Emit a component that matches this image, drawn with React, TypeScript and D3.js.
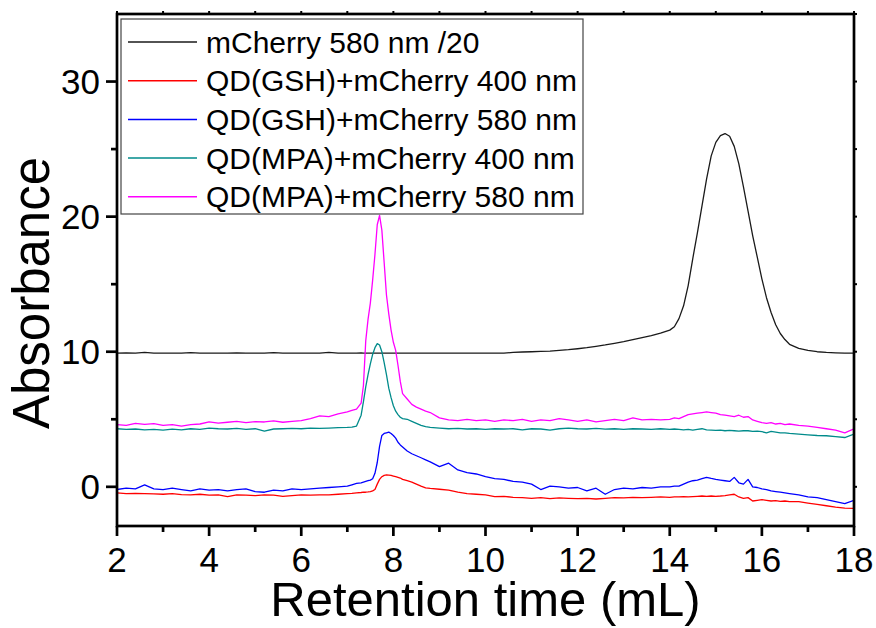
import React from "react";
import * as d3 from "d3";

// Retention volume grid (mL)
const retention: number[] = [
  2.0, 2.2, 2.4, 2.6, 2.8, 3.0, 3.2, 3.4, 3.6, 3.8, 4.0, 4.2, 4.4, 4.6, 4.8, 5.0, 5.2, 5.4, 5.6, 5.8, 6.0, 6.2, 6.4, 6.6, 6.8, 7.0,
  7.1, 7.2, 7.3, 7.35, 7.4, 7.45, 7.5, 7.55, 7.6, 7.65, 7.7, 7.75, 7.8, 7.85, 7.9, 7.95, 8.0, 8.05, 8.1, 8.15, 8.2, 8.3, 8.4, 8.5, 8.6, 8.7, 8.8,
  9.0, 9.2, 9.4, 9.6, 9.8, 10.0, 10.2, 10.4, 10.6, 10.8, 11.0, 11.2, 11.4, 11.6, 11.8, 12.0, 12.2, 12.4, 12.6, 12.8, 13.0, 13.2, 13.4, 13.6, 13.8,
  14.0, 14.1, 14.2, 14.3, 14.4, 14.5, 14.6, 14.7, 14.8, 14.9, 15.0, 15.1, 15.2, 15.3, 15.4, 15.5, 15.6, 15.7, 15.8, 15.9, 16.0, 16.1, 16.2, 16.3, 16.4, 16.5, 16.6,
  16.8, 17.0, 17.2, 17.4, 17.6, 17.8, 18.0,
];

const mCherry580: number[] = [
  9.9, 9.92, 9.9, 9.95, 9.9, 9.9, 9.9, 9.9, 9.93, 9.9, 9.9, 9.9, 9.9, 9.92, 9.9, 9.9, 9.9, 9.94, 9.9, 9.9, 9.9, 9.9, 9.9, 9.95, 9.9, 9.9,
  9.9, 9.9, 9.92, 9.9, 9.9, 9.9, 9.9, 9.9, 9.9, 9.9, 9.9, 9.9, 9.9, 9.9, 9.9, 9.9, 9.9, 9.9, 9.9, 9.9, 9.9, 9.9, 9.9, 9.9, 9.9, 9.9, 9.9,
  9.9, 9.9, 9.9, 9.9, 9.9, 9.9, 9.9, 9.9, 9.95, 9.98, 10.0, 10.02, 10.05, 10.1, 10.15, 10.22, 10.3, 10.4, 10.5, 10.62, 10.75, 10.9, 11.05, 11.2, 11.38,
  11.6, 11.85, 12.45, 13.4, 14.9, 16.9, 18.8, 20.8, 22.8, 24.5, 25.5, 26.0, 26.15, 25.95, 25.2, 23.9, 22.2, 20.4, 18.6, 17.0, 15.4, 14.0, 12.9, 12.0, 11.35, 10.9, 10.55,
  10.25, 10.1, 10.0, 9.95, 9.92, 9.9, 9.9,
];

const gsh400: number[] = [
  -0.45, -0.5, -0.48, -0.5, -0.52, -0.55, -0.5, -0.58, -0.6, -0.55, -0.62, -0.6, -0.72, -0.6, -0.62, -0.65, -0.6, -0.62, -0.7, -0.65, -0.6, -0.62, -0.6, -0.6, -0.55, -0.5,
  -0.48, -0.45, -0.42, -0.4, -0.4, -0.38, -0.35, -0.3, -0.2, 0.2, 0.55, 0.75, 0.85, 0.88, 0.87, 0.85, 0.8, 0.75, 0.7, 0.65, 0.55, 0.45, 0.35, 0.2, 0.05, -0.08, -0.12,
  -0.18, -0.25, -0.4, -0.5, -0.55, -0.6, -0.72, -0.7, -0.78, -0.8, -0.85, -0.8, -0.88, -0.82, -0.85, -0.88, -0.85, -0.9, -0.85, -0.8, -0.82, -0.78, -0.8, -0.78, -0.75,
  -0.78, -0.75, -0.75, -0.72, -0.75, -0.72, -0.7, -0.68, -0.7, -0.68, -0.7, -0.68, -0.65, -0.6, -0.55, -0.75, -0.85, -0.8, -1.05, -1.0, -0.95, -1.0, -1.05, -1.02, -1.08, -1.05, -1.1,
  -1.1, -1.2, -1.3, -1.4, -1.5, -1.58, -1.6,
];

const gsh580: number[] = [
  -0.2, -0.1, -0.15, 0.15, -0.15, -0.2, -0.1, -0.2, -0.3, -0.15, -0.25, -0.2, -0.3, -0.2, -0.15, -0.35, -0.4, -0.25, -0.3, -0.15, -0.2, -0.15, -0.1, -0.05, 0.0, 0.05,
  0.15, 0.25, 0.3, 0.35, 0.4, 0.45, 0.5, 0.6, 1.0, 1.8, 3.0, 3.8, 3.95, 4.0, 4.05, 3.95, 3.8, 3.6, 3.3, 3.1, 2.95, 2.65, 2.45, 2.3, 2.15, 2.0, 1.85,
  1.5, 1.75, 1.25, 1.05, 0.95, 0.75, 0.6, 0.55, 0.4, 0.35, 0.2, -0.2, 0.05, 0.0, -0.1, -0.05, -0.3, -0.1, -0.55, -0.2, -0.1, -0.15, -0.05, -0.1, 0.0,
  0.0, 0.05, 0.05, 0.2, 0.35, 0.45, 0.5, 0.6, 0.7, 0.62, 0.55, 0.5, 0.45, 0.4, 0.7, 0.3, 0.2, 0.55, 0.0, -0.05, -0.15, -0.2, -0.3, -0.35, -0.4, -0.45, -0.5,
  -0.6, -0.75, -0.8, -0.95, -1.1, -1.25, -1.0,
];

const mpa400: number[] = [
  4.3, 4.25, 4.28, 4.22, 4.25, 4.2, 4.27, 4.22, 4.3, 4.25, 4.35, 4.3, 4.28, 4.32, 4.25, 4.3, 4.12, 4.28, 4.3, 4.32, 4.3, 4.35, 4.33, 4.35, 4.38, 4.4,
  4.42, 4.5, 5.3, 6.3, 7.4, 8.3, 9.1, 9.8, 10.3, 10.6, 10.5, 10.0, 9.2, 8.3, 7.3, 6.6, 6.0, 5.6, 5.35, 5.15, 5.05, 5.0, 4.85, 4.7, 4.55, 4.45, 4.4,
  4.35, 4.3, 4.32, 4.28, 4.3, 4.25, 4.3, 4.28, 4.3, 4.22, 4.3, 4.28, 4.2, 4.3, 4.35, 4.3, 4.28, 4.32, 4.27, 4.3, 4.25, 4.3, 4.28, 4.25, 4.3,
  4.25, 4.28, 4.25, 4.22, 4.25, 4.2, 4.25, 4.3, 4.22, 4.2, 4.18, 4.2, 4.15, 4.18, 4.15, 4.12, 4.15, 4.15, 4.1, 4.12, 4.08, 4.0, 4.1, 4.05, 4.0, 4.0, 3.95,
  3.9, 3.85, 3.8, 3.78, 3.72, 3.65, 3.9,
];

const mpa580: number[] = [
  4.6, 4.55, 4.7, 4.62, 4.68, 4.55, 4.6, 4.5, 4.6, 4.65, 4.8, 4.72, 4.78, 4.85, 4.75, 4.82, 4.8, 4.88, 4.78, 4.85, 4.9, 5.05, 5.25, 5.2, 5.4, 5.55,
  5.65, 5.75, 6.2, 7.5, 10.8, 12.4, 13.6, 15.3, 17.2, 19.4, 20.1, 19.0, 16.6, 14.2, 12.8, 11.6, 10.7, 10.1, 9.0, 7.8, 6.9, 6.5, 6.1, 5.9, 5.75, 5.6, 5.5,
  5.1, 4.95, 4.9, 5.0, 4.9, 4.95, 4.85, 4.95, 4.9, 5.0, 4.85, 4.95, 4.9, 5.05, 4.95, 4.85, 4.95, 4.8, 4.9, 5.0, 4.9, 5.1, 4.95, 5.0, 4.95,
  5.0, 5.1, 5.05, 5.2, 5.35, 5.4, 5.45, 5.5, 5.55, 5.5, 5.45, 5.35, 5.3, 5.25, 5.2, 5.3, 5.15, 5.2, 4.95, 4.85, 4.75, 4.7, 4.75, 4.65, 4.7, 4.6, 4.65,
  4.55, 4.5, 4.4, 4.3, 4.2, 4.0, 4.3,
];

const seriesNames: string[] = [
  "mCherry 580 nm /20",
  "QD(GSH)+mCherry 400 nm",
  "QD(GSH)+mCherry 580 nm",
  "QD(MPA)+mCherry 400 nm",
  "QD(MPA)+mCherry 580 nm",
];
const seriesColors: string[] = ["#1a1a1a", "#ff0000", "#0000ff", "#008b8b", "#ff00ff"];
const seriesValues: number[][] = [mCherry580, gsh400, gsh580, mpa400, mpa580];

const xTicks: number[] = [2, 4, 6, 8, 10, 12, 14, 16, 18];
const xMinorTicks: number[] = [3, 5, 7, 9, 11, 13, 15, 17];
const yTicks: number[] = [0, 10, 20, 30];
const yMinorTicks: number[] = [5, 15, 25];

const W = 876;
const H = 628;
const M = { left: 117, right: 854, top: 14, bottom: 526 };
const FONT = "'Liberation Sans', Arial, Helvetica, sans-serif";

export default function App() {
  const x = d3.scaleLinear().domain([2, 18]).range([M.left, M.right]);
  const y = d3.scaleLinear().domain([-2.9, 35]).range([M.bottom, M.top]);
  const line = d3
    .line<[number, number]>()
    .x((d) => x(d[0]))
    .y((d) => y(d[1]));

  const allXTicks = d3.range(2, 19, 1);
  const rightTicks = d3.range(0, 36, 5);

  return (
    <svg
      width={W}
      height={H}
      style={{ position: "absolute", left: 0, top: 0, background: "#fff" }}
      fontFamily={FONT}
    >
      <defs>
        <clipPath id="plotclip">
          <rect x={M.left} y={M.top} width={M.right - M.left} height={M.bottom - M.top} />
        </clipPath>
      </defs>
      <rect x={0} y={0} width={W} height={H} fill="#fff" />

      {/* data */}
      <g clipPath="url(#plotclip)">
        {seriesValues.map((vals, i) => (
          <path
            key={i}
            d={line(retention.map((r, j) => [r, vals[j]] as [number, number])) || ""}
            fill="none"
            stroke={seriesColors[i]}
            strokeWidth={1.3}
            strokeLinejoin="round"
          />
        ))}
      </g>

      {/* frame */}
      <rect
        x={M.left}
        y={M.top}
        width={M.right - M.left}
        height={M.bottom - M.top}
        fill="none"
        stroke="#000"
        strokeWidth={2.7}
      />

      {/* bottom axis ticks */}
      {xTicks.map((t) => (
        <g key={"xt" + t}>
          <line x1={x(t)} x2={x(t)} y1={M.bottom} y2={M.bottom + 10} stroke="#000" strokeWidth={2.7} />
          <text x={x(t)} y={572} fontSize={35} textAnchor="middle" fill="#000">
            {t}
          </text>
        </g>
      ))}
      {xMinorTicks.map((t) => (
        <line key={"xm" + t} x1={x(t)} x2={x(t)} y1={M.bottom} y2={M.bottom + 6} stroke="#000" strokeWidth={2.7} />
      ))}
      {/* top axis small ticks */}
      {allXTicks.map((t) => (
        <line key={"tt" + t} x1={x(t)} x2={x(t)} y1={M.top} y2={M.top - 3} stroke="#000" strokeWidth={2} />
      ))}

      {/* left axis ticks */}
      {yTicks.map((t) => (
        <g key={"yt" + t}>
          <line x1={M.left} x2={M.left - 11} y1={y(t)} y2={y(t)} stroke="#000" strokeWidth={2.7} />
          <text x={100} y={y(t) + 12.5} fontSize={35} textAnchor="end" fill="#000">
            {t}
          </text>
        </g>
      ))}
      {yMinorTicks.map((t) => (
        <line key={"ym" + t} x1={M.left} x2={M.left - 6} y1={y(t)} y2={y(t)} stroke="#000" strokeWidth={2.7} />
      ))}
      {/* right axis small ticks */}
      {rightTicks.map((t) => (
        <line key={"rt" + t} x1={M.right} x2={M.right + 3} y1={y(t)} y2={y(t)} stroke="#000" strokeWidth={2} />
      ))}

      {/* axis titles */}
      <text x={(M.left + M.right) / 2} y={616} fontSize={49} textAnchor="middle" fill="#000">
        Retention time (mL)
      </text>
      <text
        transform={`translate(49, 293) rotate(-90)`}
        fontSize={51}
        textAnchor="middle"
        fill="#000"
      >
        Absorbance
      </text>

      {/* legend */}
      <rect x={121} y={19} width={462} height={195} fill="#fff" stroke="#444" strokeWidth={1.2} />
      {seriesNames.map((name, i) => {
        const cy = 42 + i * 38.7;
        return (
          <g key={"lg" + i}>
            <line x1={128} x2={197} y1={cy} y2={cy} stroke={seriesColors[i]} strokeWidth={1.5} />
            <text x={206} y={cy + 10.5} fontSize={30} fill="#000">
              {name}
            </text>
          </g>
        );
      })}
    </svg>
  );
}
